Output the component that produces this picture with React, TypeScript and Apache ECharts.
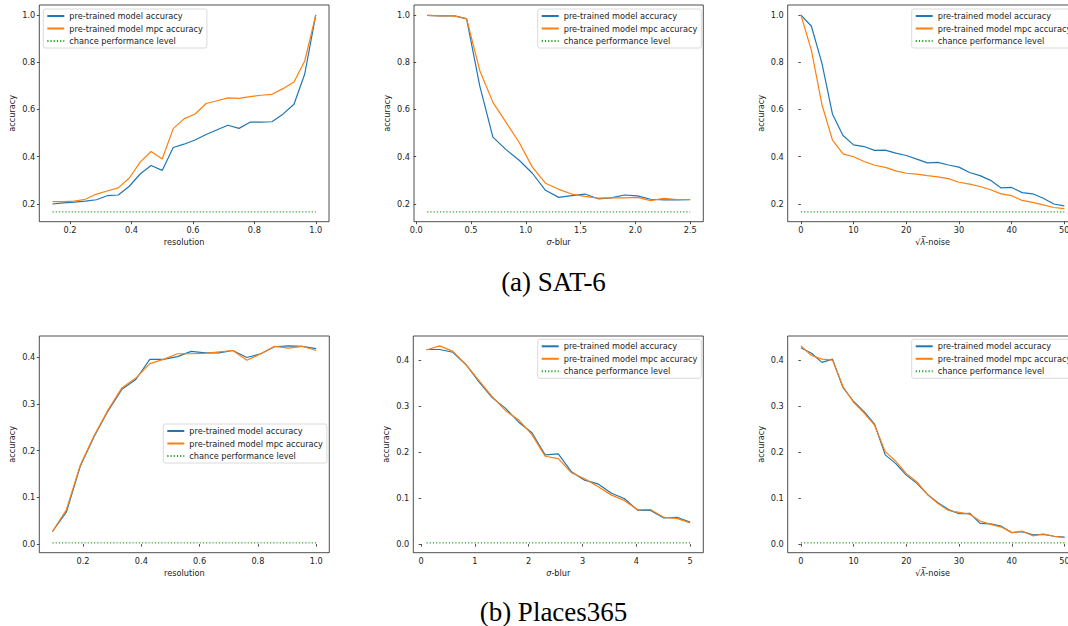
import React, { useEffect, useRef } from "react";
import * as echarts from "echarts";

// ---------- DATA ----------
const satResolution = [0.143, 0.179, 0.214, 0.25, 0.286, 0.321, 0.357, 0.393, 0.429, 0.464, 0.5, 0.536, 0.571, 0.607, 0.643, 0.679, 0.714, 0.75, 0.786, 0.821, 0.857, 0.893, 0.929, 0.964, 1.0];
const satResAcc = [0.2, 0.205, 0.208, 0.212, 0.218, 0.235, 0.238, 0.275, 0.328, 0.363, 0.342, 0.439, 0.453, 0.471, 0.494, 0.514, 0.533, 0.52, 0.546, 0.546, 0.548, 0.58, 0.622, 0.75, 1.0];
const satResMpc = [0.21, 0.21, 0.212, 0.22, 0.242, 0.255, 0.268, 0.31, 0.378, 0.422, 0.39, 0.519, 0.56, 0.581, 0.625, 0.637, 0.649, 0.647, 0.654, 0.66, 0.664, 0.688, 0.716, 0.805, 1.0];

const satBlur = [0.1, 0.22, 0.34, 0.46, 0.58, 0.7, 0.82, 0.94, 1.06, 1.18, 1.3, 1.42, 1.54, 1.66, 1.78, 1.9, 2.02, 2.14, 2.26, 2.38, 2.5];
const satBlurAcc = [0.998, 0.996, 0.997, 0.983, 0.7, 0.483, 0.43, 0.385, 0.33, 0.258, 0.228, 0.235, 0.242, 0.222, 0.226, 0.238, 0.234, 0.22, 0.217, 0.217, 0.218];
const satBlurMpc = [0.998, 0.996, 0.997, 0.984, 0.765, 0.63, 0.545, 0.46, 0.356, 0.288, 0.262, 0.242, 0.232, 0.225, 0.226, 0.226, 0.228, 0.214, 0.224, 0.219, 0.219];

const noiseLevels = [0, 2, 4, 6, 8, 10, 12, 14, 16, 18, 20, 22, 24, 26, 28, 30, 32, 34, 36, 38, 40, 42, 44, 46, 48, 50];
const satNoiseAcc = [1.0, 0.952, 0.795, 0.58, 0.49, 0.45, 0.443, 0.427, 0.428, 0.415, 0.405, 0.39, 0.374, 0.376, 0.365, 0.356, 0.333, 0.32, 0.3, 0.268, 0.27, 0.248, 0.243, 0.224, 0.2, 0.192];
const satNoiseMpc = [1.0, 0.85, 0.62, 0.47, 0.412, 0.4, 0.38, 0.364, 0.355, 0.34, 0.33, 0.326, 0.32, 0.315, 0.307, 0.292, 0.284, 0.274, 0.26, 0.243, 0.235, 0.215, 0.207, 0.196, 0.185, 0.18];

const placesResolution = [0.095, 0.143, 0.19, 0.238, 0.286, 0.333, 0.381, 0.429, 0.476, 0.524, 0.571, 0.619, 0.667, 0.714, 0.762, 0.81, 0.857, 0.905, 0.952, 1.0];
const placesResAcc = [0.027, 0.069, 0.166, 0.23, 0.285, 0.331, 0.352, 0.395, 0.395, 0.401, 0.412, 0.409, 0.409, 0.414, 0.399, 0.407, 0.422, 0.424, 0.423, 0.418];
const placesResMpc = [0.027, 0.074, 0.168, 0.232, 0.287, 0.334, 0.355, 0.386, 0.395, 0.407, 0.407, 0.408, 0.411, 0.414, 0.393, 0.407, 0.423, 0.419, 0.423, 0.414];

const placesBlur = [0.1, 0.345, 0.59, 0.835, 1.08, 1.325, 1.57, 1.815, 2.06, 2.305, 2.55, 2.795, 3.04, 3.285, 3.53, 3.775, 4.02, 4.265, 4.51, 4.755, 5.0];
const placesBlurAcc = [0.423, 0.423, 0.417, 0.39, 0.352, 0.318, 0.295, 0.265, 0.242, 0.194, 0.196, 0.157, 0.139, 0.131, 0.111, 0.099, 0.074, 0.073, 0.057, 0.058, 0.048];
const placesBlurMpc = [0.422, 0.431, 0.419, 0.39, 0.355, 0.32, 0.29, 0.27, 0.238, 0.191, 0.186, 0.155, 0.142, 0.125, 0.107, 0.095, 0.075, 0.075, 0.058, 0.056, 0.046];

const placesNoiseAcc = [0.427, 0.415, 0.395, 0.402, 0.34, 0.31, 0.288, 0.26, 0.194, 0.175, 0.15, 0.132, 0.108, 0.09, 0.075, 0.066, 0.067, 0.045, 0.044, 0.039, 0.025, 0.027, 0.02, 0.021, 0.017, 0.015];
const placesNoiseMpc = [0.431, 0.41, 0.402, 0.4, 0.342, 0.308, 0.285, 0.258, 0.201, 0.18, 0.153, 0.135, 0.108, 0.088, 0.073, 0.069, 0.065, 0.05, 0.043, 0.037, 0.025, 0.028, 0.018, 0.022, 0.017, 0.014];

const satChance = 0.1667;
const placesChance = 0.00274;

const seriesNames = ["pre-trained model accuracy", "pre-trained model mpc accuracy", "chance performance level"];
const captions = ["(a) SAT-6", "(b) Places365"];

const ticksResolution = [0.2, 0.4, 0.6, 0.8, 1.0];
const ticksSatBlur = [0.0, 0.5, 1.0, 1.5, 2.0, 2.5];
const ticksNoise = [0, 10, 20, 30, 40, 50];
const ticksPlacesBlur = [0, 1, 2, 3, 4, 5];
const ticksSatY = [0.2, 0.4, 0.6, 0.8, 1.0];
const ticksPlacesY = [0.0, 0.1, 0.2, 0.3, 0.4];

// ---------- STYLE / LAYOUT ----------
const FONT = "DejaVu Sans";
const FS = 8.2;
const TXT = "#222";
const BLUE = "#1f77b4";
const ORANGE = "#ff7f0e";
const GREEN = "#2ca02c";

type Panel = {
  x: number[];
  acc: number[];
  mpc: number[];
  chance: number;
  xTicks: number[];
  yTicks: number[];
  xDec: number;
  xName: string;
  xMin: number;
  xMax: number;
  yMin: number;
  yMax: number;
  grid: { left: number; top: number; width: number; height: number };
  legend: { left: number; top: number };
};

const TOP_ROW = { top: 5, height: 216.7 };
const BOT_ROW = { top: 336, height: 216.7 };

const NOISE_NAME = "√{i|λ\u0305}-noise";

const panels: Panel[] = [
  { x: satResolution, acc: satResAcc, mpc: satResMpc, chance: satChance, xTicks: ticksResolution, yTicks: ticksSatY, xDec: 1, xName: "resolution", xMin: 0.1, xMax: 1.043, yMin: 0.125, yMax: 1.042, grid: { left: 39.3, width: 289.7, ...TOP_ROW }, legend: { left: 43.3, top: 9 } },
  { x: satBlur, acc: satBlurAcc, mpc: satBlurMpc, chance: satChance, xTicks: ticksSatBlur, yTicks: ticksSatY, xDec: 1, xName: "{i|σ}-blur", xMin: -0.02, xMax: 2.62, yMin: 0.125, yMax: 1.042, grid: { left: 414, width: 289.3, ...TOP_ROW }, legend: { left: 537.7, top: 9 } },
  { x: noiseLevels, acc: satNoiseAcc, mpc: satNoiseMpc, chance: satChance, xTicks: ticksNoise, yTicks: ticksSatY, xDec: 0, xName: NOISE_NAME, xMin: -2.5, xMax: 52.5, yMin: 0.125, yMax: 1.042, grid: { left: 787.7, width: 289.8, ...TOP_ROW }, legend: { left: 911.7, top: 9 } },
  { x: placesResolution, acc: placesResAcc, mpc: placesResMpc, chance: placesChance, xTicks: ticksResolution, yTicks: ticksPlacesY, xDec: 1, xName: "resolution", xMin: 0.0498, xMax: 1.045, yMin: -0.0183, yMax: 0.445, grid: { left: 39.3, width: 290, ...BOT_ROW }, legend: { left: 163.3, top: 424 } },
  { x: placesBlur, acc: placesBlurAcc, mpc: placesBlurMpc, chance: placesChance, xTicks: ticksPlacesBlur, yTicks: ticksPlacesY, xDec: 0, xName: "{i|σ}-blur", xMin: -0.145, xMax: 5.245, yMin: -0.0187, yMax: 0.4524, grid: { left: 413.3, width: 290, ...BOT_ROW }, legend: { left: 537.7, top: 339.3 } },
  { x: noiseLevels, acc: placesNoiseAcc, mpc: placesNoiseMpc, chance: placesChance, xTicks: ticksNoise, yTicks: ticksPlacesY, xDec: 0, xName: NOISE_NAME, xMin: -2.5, xMax: 52.5, yMin: -0.0187, yMax: 0.4524, grid: { left: 787.7, width: 290, ...BOT_ROW }, legend: { left: 911.7, top: 339.3 } },
];

function buildOption() {
  const grid: any[] = [];
  const xAxis: any[] = [];
  const yAxis: any[] = [];
  const series: any[] = [];
  const legend: any[] = [];

  panels.forEach((p, i) => {
    grid.push({
      ...p.grid,
      show: true,
      borderColor: "#222",
      borderWidth: 0.8,
      backgroundColor: "transparent",
      containLabel: false,
      outerBoundsMode: "none",
    });
    xAxis.push({
      type: "value",
      gridIndex: i,
      min: p.xMin,
      max: p.xMax,
      axisLine: { show: false },
      splitLine: { show: false },
      axisTick: { show: true, length: 2.5, customValues: p.xTicks, lineStyle: { color: "#222", width: 0.8 } },
      axisLabel: {
        customValues: p.xTicks,
        formatter: (v: number) => v.toFixed(p.xDec),
        fontSize: FS,
        fontFamily: FONT,
        color: TXT,
        margin: 4,
      },
      name: p.xName,
      nameLocation: "middle",
      nameGap: 16,
      nameTextStyle: {
        fontSize: FS,
        fontFamily: FONT,
        color: TXT,
        rich: { i: { fontStyle: "italic", fontSize: FS, fontFamily: FONT, color: TXT } },
      },
    });
    yAxis.push({
      type: "value",
      gridIndex: i,
      min: p.yMin,
      max: p.yMax,
      axisLine: { show: false },
      splitLine: { show: false },
      axisTick: { show: true, length: 2.5, customValues: p.yTicks, lineStyle: { color: "#222", width: 0.8 } },
      axisLabel: {
        customValues: p.yTicks,
        formatter: (v: number) => v.toFixed(1),
        fontSize: FS,
        fontFamily: FONT,
        color: TXT,
        margin: 4,
      },
      name: "accuracy",
      nameLocation: "middle",
      nameRotate: 90,
      nameGap: 23,
      nameTextStyle: { fontSize: FS, fontFamily: FONT, color: TXT },
    });
    series.push({
      type: "line",
      name: seriesNames[0],
      xAxisIndex: i,
      yAxisIndex: i,
      symbol: "none",
      data: p.x.map((v, k) => [v, p.acc[k]]),
      lineStyle: { color: BLUE, width: 1.2 },
      itemStyle: { color: BLUE },
      z: 2,
    });
    series.push({
      type: "line",
      name: seriesNames[1],
      xAxisIndex: i,
      yAxisIndex: i,
      symbol: "none",
      data: p.x.map((v, k) => [v, p.mpc[k]]),
      lineStyle: { color: ORANGE, width: 1.2 },
      itemStyle: { color: ORANGE },
      z: 3,
    });
    series.push({
      type: "line",
      name: seriesNames[2],
      xAxisIndex: i,
      yAxisIndex: i,
      symbol: "none",
      data: [
        [p.x[0], p.chance],
        [p.x[p.x.length - 1], p.chance],
      ],
      lineStyle: { color: GREEN, width: 1.2, type: [1.2, 2] },
      itemStyle: { color: GREEN },
      z: 4,
    });
    legend.push({
      left: p.legend.left,
      top: p.legend.top,
      orient: "vertical",
      data: seriesNames,
      selectedMode: false,
      itemWidth: 17,
      itemHeight: 8,
      itemGap: 4.5,
      padding: [3, 4, 3, 3],
      backgroundColor: "rgba(255,255,255,0.8)",
      borderColor: "#d0d0d0",
      borderWidth: 0.8,
      borderRadius: 2,
      itemStyle: { opacity: 0 },
      textStyle: { fontSize: FS, fontFamily: FONT, color: TXT },
    });
  });

  const graphic = [
    {
      type: "text",
      x: 553.5,
      y: 282,
      style: { text: captions[0], fontSize: 27, fontFamily: "Liberation Serif", fill: "#000", align: "center", verticalAlign: "middle" },
    },
    {
      type: "text",
      x: 553.5,
      y: 612,
      style: { text: captions[1], fontSize: 27, fontFamily: "Liberation Serif", fill: "#000", align: "center", verticalAlign: "middle" },
    },
  ];

  return {
    animation: false,
    backgroundColor: "#fff",
    grid,
    xAxis,
    yAxis,
    series,
    legend,
    graphic,
  };
}

export default function App() {
  const ref = useRef<HTMLDivElement>(null);
  useEffect(() => {
    if (!ref.current) return;
    const chart = echarts.init(ref.current, undefined, { renderer: "svg" });
    chart.setOption(buildOption() as any);
    return () => chart.dispose();
  }, []);
  return (
    <div
      ref={ref}
      style={{ position: "absolute", left: 0, top: 0, width: 1068, height: 626 }}
    />
  );
}
